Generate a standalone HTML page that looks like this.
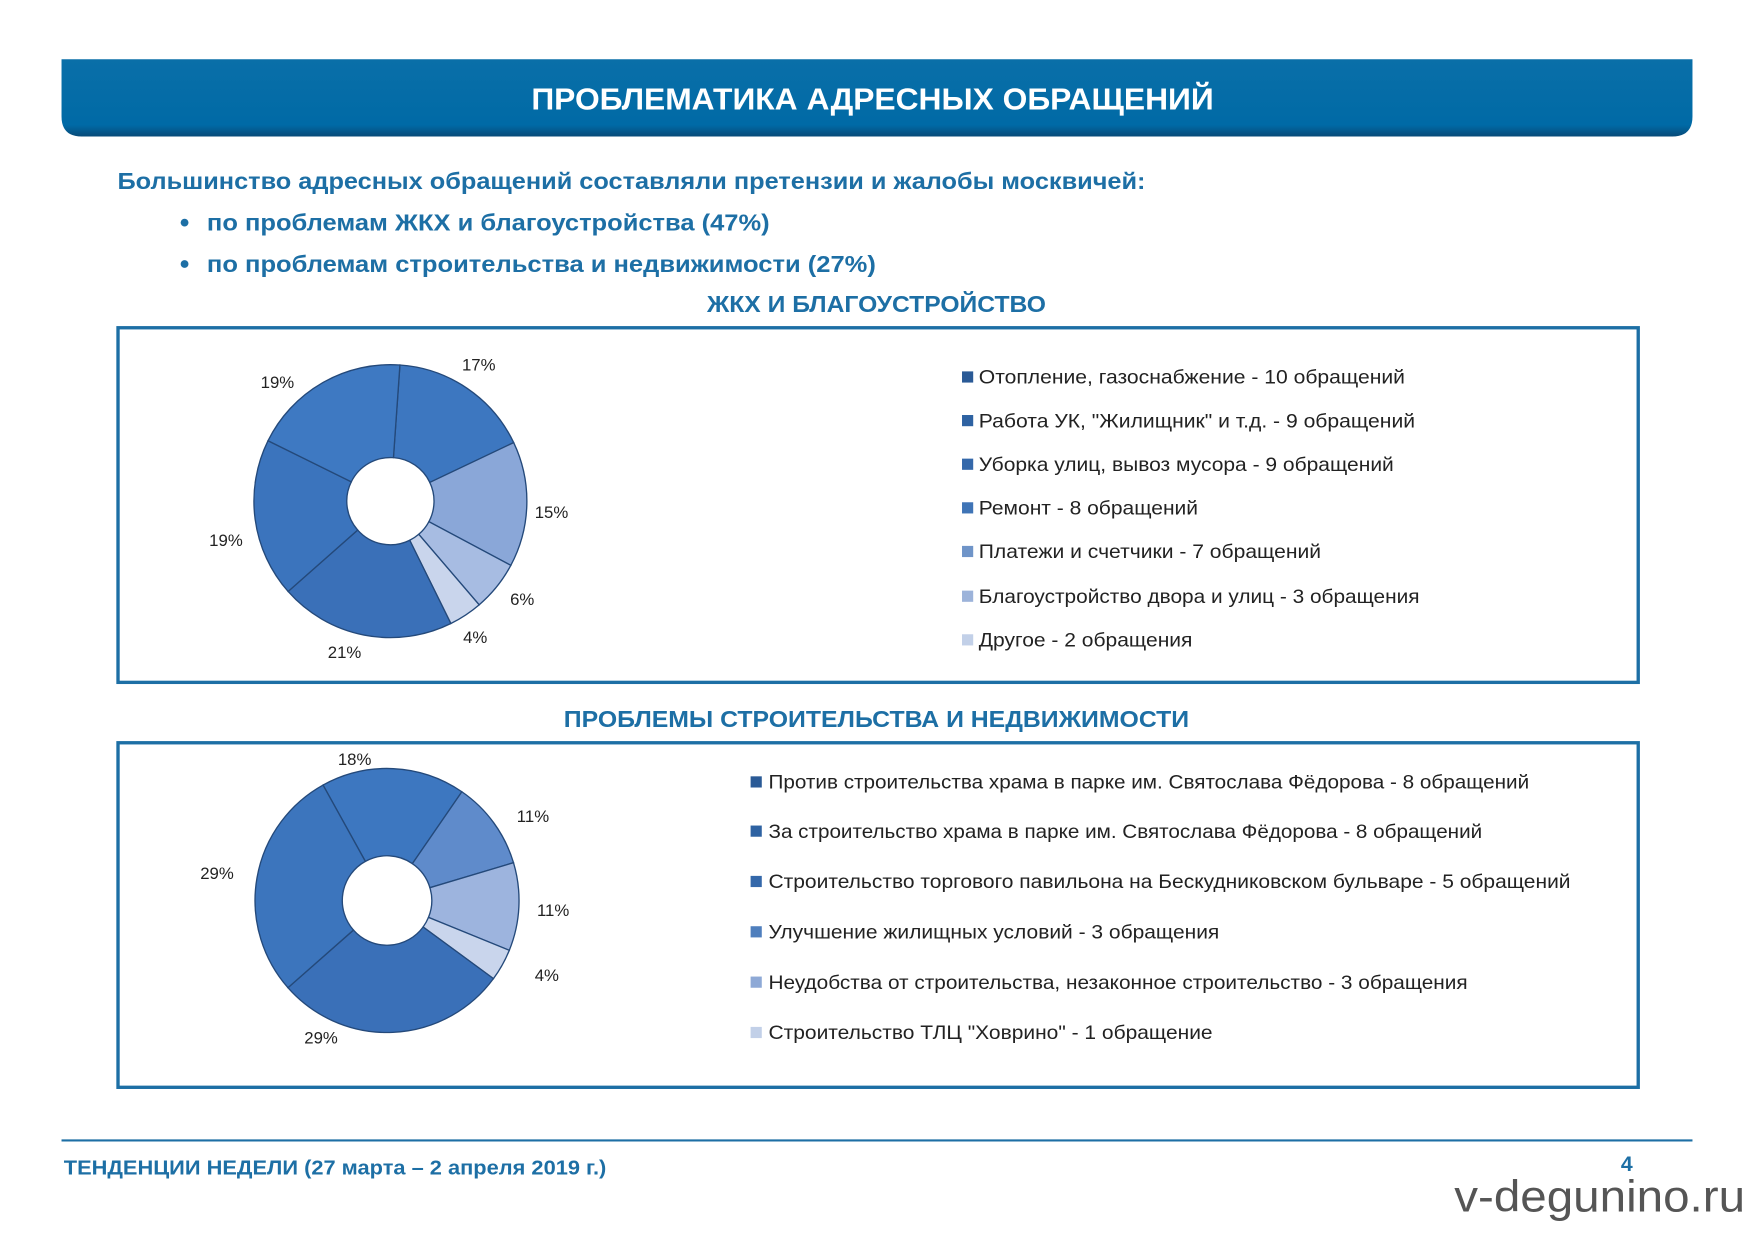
<!DOCTYPE html>
<html><head><meta charset="utf-8"><style>
html,body{margin:0;padding:0;background:#fff;width:1754px;height:1240px;overflow:hidden}
svg{display:block}
text{font-family:"Liberation Sans","Noto Sans CJK SC",sans-serif}
</style></head><body>
<svg id="s" width="1754" height="1240" viewBox="0 0 1568 1108.5" xmlns="http://www.w3.org/2000/svg">
<defs>
<linearGradient id="hb" x1="0" y1="0" x2="0" y2="1">
<stop offset="0" stop-color="#0a6fa8"/><stop offset="0.85" stop-color="#006aa6"/><stop offset="1" stop-color="#074a78"/>
</linearGradient>
</defs>
<path d="M55 53 H1513 V104 Q1513 122 1495 122 H73 Q55 122 55 104 Z" fill="url(#hb)"/>
<text x="475" y="98" textLength="610" lengthAdjust="spacingAndGlyphs" font-size="27" font-weight="bold" fill="#fff">ПРОБЛЕМАТИКА АДРЕСНЫХ ОБРАЩЕНИЙ</text>
<g fill="#1d6fa5" font-weight="bold" font-size="20.5">
<text x="105" y="169" textLength="919" lengthAdjust="spacingAndGlyphs">Большинство адресных обращений составляли претензии и жалобы москвичей:</text>
<circle cx="165" cy="199" r="3.5"/><text x="185" y="206" textLength="503" lengthAdjust="spacingAndGlyphs">по проблемам ЖКХ и благоустройства (47%)</text>
<circle cx="165" cy="236" r="3.5"/><text x="185" y="243" textLength="598" lengthAdjust="spacingAndGlyphs">по проблемам строительства и недвижимости (27%)</text>
<text x="632" y="279" textLength="303" lengthAdjust="spacingAndGlyphs">ЖКХ И БЛАГОУСТРОЙСТВО</text>
<text x="504" y="650" textLength="559" lengthAdjust="spacingAndGlyphs">ПРОБЛЕМЫ СТРОИТЕЛЬСТВА И НЕДВИЖИМОСТИ</text>
</g>
<rect x="105.5" y="293" width="1359" height="317" fill="none" stroke="#1d6fa5" stroke-width="3"/>
<rect x="105.5" y="664" width="1359" height="308" fill="none" stroke="#1d6fa5" stroke-width="3"/>
<g id="d1"></g><g id="d2"></g>
<g font-size="15" fill="#222">
<text x="413" y="331">17%</text><text x="233" y="347">19%</text><text x="478" y="463">15%</text>
<text x="187" y="488">19%</text><text x="456" y="541">6%</text><text x="414" y="575">4%</text><text x="293" y="588">21%</text>
<text x="302" y="684">18%</text><text x="462" y="735">11%</text><text x="179" y="786">29%</text>
<text x="480" y="819">11%</text><text x="478" y="877">4%</text><text x="272" y="933">29%</text>
</g>
<g font-size="17.5" fill="#222" id="leg">
<text x="875" y="343" textLength="381" lengthAdjust="spacingAndGlyphs">Отопление, газоснабжение - 10 обращений</text>
<text x="875" y="382" textLength="390" lengthAdjust="spacingAndGlyphs">Работа УК, "Жилищник" и т.д. - 9 обращений</text>
<text x="875" y="421" textLength="371" lengthAdjust="spacingAndGlyphs">Уборка улиц, вывоз мусора - 9 обращений</text>
<text x="875" y="460" textLength="196" lengthAdjust="spacingAndGlyphs">Ремонт - 8 обращений</text>
<text x="875" y="499" textLength="306" lengthAdjust="spacingAndGlyphs">Платежи и счетчики - 7 обращений</text>
<text x="875" y="539" textLength="394" lengthAdjust="spacingAndGlyphs">Благоустройство двора и улиц - 3 обращения</text>
<text x="875" y="578" textLength="191" lengthAdjust="spacingAndGlyphs">Другое - 2 обращения</text>
<text x="687" y="705" textLength="680" lengthAdjust="spacingAndGlyphs">Против строительства храма в парке им. Святослава Фёдорова - 8 обращений</text>
<text x="687" y="749" textLength="638" lengthAdjust="spacingAndGlyphs">За строительство храма в парке им. Святослава Фёдорова - 8 обращений</text>
<text x="687" y="794" textLength="717" lengthAdjust="spacingAndGlyphs">Строительство торгового павильона на Бескудниковском бульваре - 5 обращений</text>
<text x="687" y="839" textLength="403" lengthAdjust="spacingAndGlyphs">Улучшение жилищных условий - 3 обращения</text>
<text x="687" y="884" textLength="625" lengthAdjust="spacingAndGlyphs">Неудобства от строительства, незаконное строительство - 3 обращения</text>
<text x="687" y="929" textLength="397" lengthAdjust="spacingAndGlyphs">Строительство ТЛЦ  "Ховрино" - 1 обращение</text>
</g>
<g>
<rect x="860" y="332" width="10" height="10" fill="#2a5a96"/><rect x="860" y="371" width="10" height="10" fill="#2e62a2"/>
<rect x="860" y="410" width="10" height="10" fill="#3468aa"/><rect x="860" y="449" width="10" height="10" fill="#3f74b6"/>
<rect x="860" y="488" width="10" height="10" fill="#6f94c8"/><rect x="860" y="528" width="10" height="10" fill="#9cb3da"/>
<rect x="860" y="567" width="10" height="10" fill="#c2d0e8"/>
<rect x="671" y="694" width="10" height="10" fill="#2a5a96"/><rect x="671" y="738" width="10" height="10" fill="#2e62a2"/>
<rect x="671" y="783" width="10" height="10" fill="#3468aa"/><rect x="671" y="828" width="10" height="10" fill="#4f7fbd"/>
<rect x="671" y="873" width="10" height="10" fill="#8ea9d6"/><rect x="671" y="918" width="10" height="10" fill="#c2d0e8"/>
</g>
<line x1="55" y1="1019.5" x2="1513" y2="1019.5" stroke="#1d6fa5" stroke-width="2"/>
<text x="57" y="1050" textLength="485" lengthAdjust="spacingAndGlyphs" font-size="18.5" font-weight="bold" fill="#1d6fa5">ТЕНДЕНЦИИ НЕДЕЛИ (27 марта – 2 апреля 2019 г.)</text>
<text x="1449" y="1047" font-size="19" font-weight="bold" fill="#1d6fa5">4</text>
<text x="1300" y="1083" textLength="260" lengthAdjust="spacingAndGlyphs" font-size="40" fill="#555">v-degunino.ru</text>
</svg>
<script>
function donut(g,cx,cy,R,r,start,vals,cols){
 var tot=vals.reduce(function(a,b){return a+b},0),a=start*Math.PI/180,h='';
 for(var i=0;i<vals.length;i++){
  var b=a+vals[i]/tot*2*Math.PI,l=(b-a)>Math.PI?1:0;
  function p(rr,t){return (cx+rr*Math.cos(t)).toFixed(2)+' '+(cy+rr*Math.sin(t)).toFixed(2)}
  h+='<path d="M'+p(R,a)+' A'+R+' '+R+' 0 '+l+' 1 '+p(R,b)+' L'+p(r,b)+' A'+r+' '+r+' 0 '+l+' 0 '+p(r,a)+' Z" fill="'+cols[i]+'" stroke="#24497a" stroke-width="1.2"/>';
  a=b;
 }
 document.getElementById(g).innerHTML=h;
}
donut('d1',349,448,122,39,-86,[17,15,6,4,21,19,19],['#3d77c0','#8aa7d8','#a7bce2','#c9d5ec','#3a70b8','#3b74bd','#3e79c2']);
donut('d2',346,805,118,40,-119,[18,11,11,4,29,29],['#3d77c0','#5f8bcb','#9db4de','#c9d5ec','#3a70b8','#3c75bd']);
</script>
</body></html>
